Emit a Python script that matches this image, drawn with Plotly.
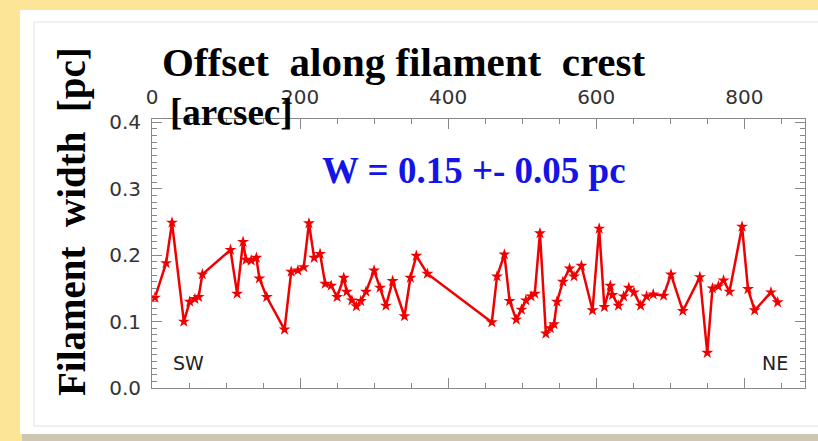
import plotly.graph_objects as go

# ---- data ----
offset_arcsec = [4, 19, 27, 43, 51, 58, 63, 68, 106, 115, 123, 127, 134, 141, 145, 155,
                 179, 188, 197, 205, 212, 219, 227, 234, 242, 250, 259, 263, 270, 276, 282, 289,
                 300, 308, 316, 325, 341, 349, 357, 372, 459, 466, 476, 483, 492, 499, 505, 512,
                 517, 524, 532, 538, 543, 547, 555, 564, 570, 580, 595, 604, 611, 619, 622, 630,
                 637, 644, 651, 660, 668, 677, 691, 701, 717, 740, 750, 757, 765, 772, 780, 797,
                 805, 814, 836, 845]
width_pc = [0.136, 0.188, 0.249, 0.100, 0.130, 0.134, 0.137, 0.171, 0.208, 0.142, 0.220, 0.193,
            0.192, 0.196, 0.165, 0.137, 0.088, 0.175, 0.177, 0.182, 0.248, 0.196, 0.202, 0.157,
            0.154, 0.137, 0.166, 0.145, 0.132, 0.123, 0.131, 0.145, 0.177, 0.151, 0.124, 0.161,
            0.108, 0.166, 0.199, 0.172, 0.099, 0.168, 0.201, 0.131, 0.103, 0.118, 0.132, 0.138,
            0.142, 0.233, 0.082, 0.090, 0.096, 0.130, 0.160, 0.180, 0.168, 0.184, 0.117, 0.240,
            0.122, 0.154, 0.140, 0.124, 0.138, 0.151, 0.144, 0.124, 0.138, 0.141, 0.139, 0.171,
            0.116, 0.167, 0.053, 0.150, 0.153, 0.162, 0.145, 0.243, 0.149, 0.117, 0.144, 0.129]
x_ticks = [0, 200, 400, 600, 800]
y_ticks = [0.0, 0.1, 0.2, 0.3, 0.4]

# ---- geometry helpers (page pixels -> paper coords) ----
W, H = 818, 441
L, R, T, B = 152, 13, 119, 53
PW, PH = W - L - R, H - T - B


def px(X):
    return (X - L) / PW


def py(Y):
    return (H - B - Y) / PH


fig = go.Figure()
fig.add_trace(go.Scatter(
    x=offset_arcsec, y=width_pc, mode="lines+markers",
    line=dict(color="#f00000", width=2.5),
    marker=dict(symbol="star", size=9, color="#f00000"),
    showlegend=False, hoverinfo="skip",
))

tickfont = dict(family="DejaVu Sans", size=20, color="#333333")
axis_common = dict(
    ticks="inside", ticklen=10, tickcolor="#888888", tickwidth=1,
    showline=True, linecolor="#888888", linewidth=1, mirror="ticks",
    showgrid=False, zeroline=False, tickfont=tickfont, ticklabelstandoff=6,
)
fig.update_xaxes(
    side="top", range=[0, 882], tickvals=x_ticks,
    minor=dict(ticks="inside", dtick=50, ticklen=5, tickcolor="#888888"),
    **axis_common,
)
fig.update_yaxes(
    range=[0, 0.405], tickvals=y_ticks, tickformat=".1f",
    minor=dict(ticks="inside", dtick=0.01, ticklen=5, tickcolor="#888888"),
    **axis_common,
)

shapes = [
    dict(type="rect", xref="paper", yref="paper", layer="below",
         x0=px(22), x1=px(830), y0=py(441), y1=py(14),
         fillcolor="#cdc6b0", line=dict(width=0)),
    dict(type="rect", xref="paper", yref="paper", layer="below",
         x0=px(20), x1=px(830), y0=py(434), y1=py(10),
         fillcolor="white", line=dict(width=0)),
    dict(type="rect", xref="paper", yref="paper", layer="below",
         x0=px(34), x1=px(830), y0=py(426), y1=py(22),
         fillcolor="rgba(0,0,0,0)", line=dict(color="#e2e2e2", width=1)),
]

serif = "Liberation Serif"
annotations = [
    dict(text="<b>Offset  along filament  crest</b>", x=px(403), y=py(62),
         font=dict(family=serif, size=41, color="black")),
    dict(text="<b>[arcsec]</b>", x=px(231), y=py(112),
         font=dict(family=serif, size=37, color="black")),
    dict(text="<b>Filament  width  [pc]</b>", x=px(72), y=py(222), textangle=-90,
         font=dict(family=serif, size=39, color="black")),
    dict(text="<b>W = 0.15 +- 0.05 pc</b>", x=px(474), y=py(170),
         font=dict(family=serif, size=37, color="#1414e6")),
    dict(text="SW", x=px(188), y=py(363),
         font=dict(family="DejaVu Sans", size=19, color="#222222")),
    dict(text="NE", x=px(775), y=py(363),
         font=dict(family="DejaVu Sans", size=19, color="#222222")),
]
for a in annotations:
    a.update(xref="paper", yref="paper", xanchor="center", yanchor="middle",
             showarrow=False)

fig.update_layout(
    width=W, height=H, autosize=False,
    margin=dict(l=L, r=R, t=T, b=B, pad=0),
    paper_bgcolor="#fce596", plot_bgcolor="white",
    shapes=shapes, annotations=annotations,
)

fig.write_html("out.html")
